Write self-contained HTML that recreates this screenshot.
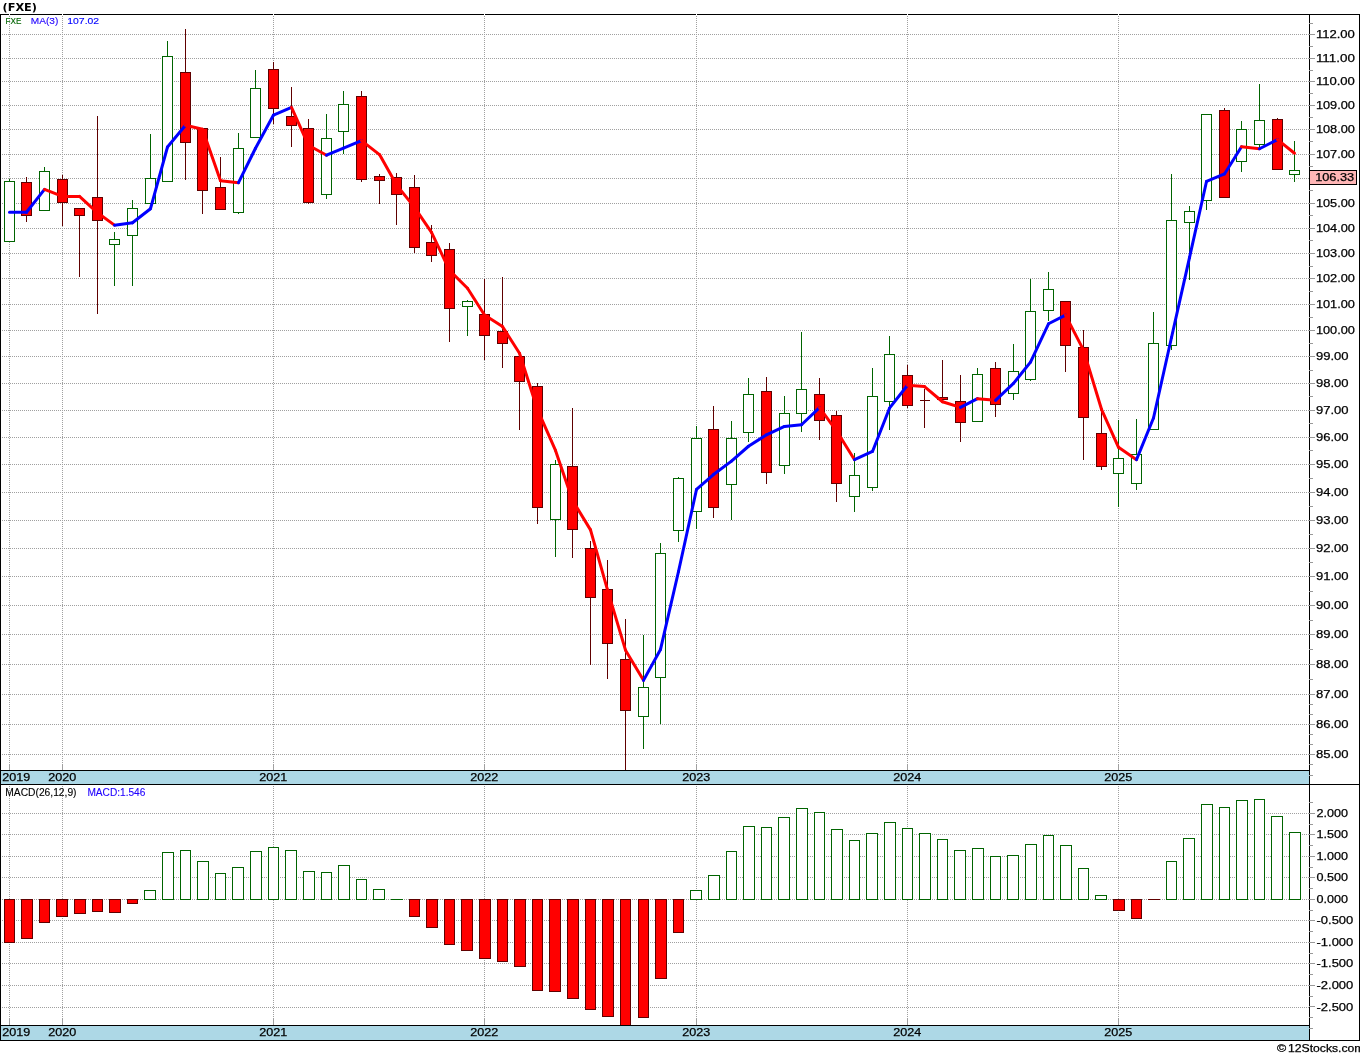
<!DOCTYPE html>
<html><head><meta charset="utf-8"><title>FXE</title>
<style>html,body{margin:0;padding:0;background:#fff;}body{width:1360px;height:1056px;overflow:hidden;}svg{display:block;}</style>
</head><body>
<svg width="1360" height="1056" viewBox="0 0 1360 1056">
<rect x="0" y="0" width="1360" height="1056" fill="#fff"/>
<g stroke="#a0a0a0" stroke-width="1" stroke-dasharray="1 1" shape-rendering="crispEdges"><line x1="0" y1="754.5" x2="1309" y2="754.5"/><line x1="0" y1="724.5" x2="1309" y2="724.5"/><line x1="0" y1="694.5" x2="1309" y2="694.5"/><line x1="0" y1="664.5" x2="1309" y2="664.5"/><line x1="0" y1="634.5" x2="1309" y2="634.5"/><line x1="0" y1="605.5" x2="1309" y2="605.5"/><line x1="0" y1="576.5" x2="1309" y2="576.5"/><line x1="0" y1="548.5" x2="1309" y2="548.5"/><line x1="0" y1="520.5" x2="1309" y2="520.5"/><line x1="0" y1="492.5" x2="1309" y2="492.5"/><line x1="0" y1="464.5" x2="1309" y2="464.5"/><line x1="0" y1="437.5" x2="1309" y2="437.5"/><line x1="0" y1="410.5" x2="1309" y2="410.5"/><line x1="0" y1="383.5" x2="1309" y2="383.5"/><line x1="0" y1="356.5" x2="1309" y2="356.5"/><line x1="0" y1="330.5" x2="1309" y2="330.5"/><line x1="0" y1="304.5" x2="1309" y2="304.5"/><line x1="0" y1="278.5" x2="1309" y2="278.5"/><line x1="0" y1="253.5" x2="1309" y2="253.5"/><line x1="0" y1="228.5" x2="1309" y2="228.5"/><line x1="0" y1="203.5" x2="1309" y2="203.5"/><line x1="0" y1="178.5" x2="1309" y2="178.5"/><line x1="0" y1="154.5" x2="1309" y2="154.5"/><line x1="0" y1="129.5" x2="1309" y2="129.5"/><line x1="0" y1="105.5" x2="1309" y2="105.5"/><line x1="0" y1="81.5" x2="1309" y2="81.5"/><line x1="0" y1="58.5" x2="1309" y2="58.5"/><line x1="0" y1="34.5" x2="1309" y2="34.5"/><line x1="9.5" y1="14" x2="9.5" y2="764"/><line x1="9.5" y1="784" x2="9.5" y2="1020"/><line x1="62.5" y1="14" x2="62.5" y2="764"/><line x1="62.5" y1="784" x2="62.5" y2="1020"/><line x1="273.5" y1="14" x2="273.5" y2="764"/><line x1="273.5" y1="784" x2="273.5" y2="1020"/><line x1="484.5" y1="14" x2="484.5" y2="764"/><line x1="484.5" y1="784" x2="484.5" y2="1020"/><line x1="696.5" y1="14" x2="696.5" y2="764"/><line x1="696.5" y1="784" x2="696.5" y2="1020"/><line x1="907.5" y1="14" x2="907.5" y2="764"/><line x1="907.5" y1="784" x2="907.5" y2="1020"/><line x1="1118.5" y1="14" x2="1118.5" y2="764"/><line x1="1118.5" y1="784" x2="1118.5" y2="1020"/></g>
<g stroke="#a0a0a0" stroke-width="1" stroke-dasharray="1 1" shape-rendering="crispEdges"><line x1="0" y1="813.5" x2="1309" y2="813.5"/><line x1="0" y1="834.5" x2="1309" y2="834.5"/><line x1="0" y1="856.5" x2="1309" y2="856.5"/><line x1="0" y1="877.5" x2="1309" y2="877.5"/><line x1="0" y1="899.5" x2="1309" y2="899.5"/><line x1="0" y1="920.5" x2="1309" y2="920.5"/><line x1="0" y1="942.5" x2="1309" y2="942.5"/><line x1="0" y1="963.5" x2="1309" y2="963.5"/><line x1="0" y1="985.5" x2="1309" y2="985.5"/><line x1="0" y1="1007.5" x2="1309" y2="1007.5"/></g>
<g stroke="#a0a0a0" stroke-width="1" shape-rendering="crispEdges"><line x1="9.5" y1="764" x2="9.5" y2="770"/><line x1="9.5" y1="1019" x2="9.5" y2="1025"/><line x1="62.5" y1="764" x2="62.5" y2="770"/><line x1="62.5" y1="1019" x2="62.5" y2="1025"/><line x1="273.5" y1="764" x2="273.5" y2="770"/><line x1="273.5" y1="1019" x2="273.5" y2="1025"/><line x1="484.5" y1="764" x2="484.5" y2="770"/><line x1="484.5" y1="1019" x2="484.5" y2="1025"/><line x1="696.5" y1="764" x2="696.5" y2="770"/><line x1="696.5" y1="1019" x2="696.5" y2="1025"/><line x1="907.5" y1="764" x2="907.5" y2="770"/><line x1="907.5" y1="1019" x2="907.5" y2="1025"/><line x1="1118.5" y1="764" x2="1118.5" y2="770"/><line x1="1118.5" y1="1019" x2="1118.5" y2="1025"/></g>
<g stroke-width="1" shape-rendering="crispEdges"><line x1="9.5" y1="179" x2="9.5" y2="181" stroke="#006400"/><rect x="4.5" y="181.5" width="10" height="60" fill="#fff" stroke="#006400"/><line x1="26.5" y1="177" x2="26.5" y2="182" stroke="#600000"/><line x1="26.5" y1="216" x2="26.5" y2="222" stroke="#600000"/><rect x="21.5" y="182.5" width="10" height="33" fill="#ff0000" stroke="#600000"/><line x1="44.5" y1="167" x2="44.5" y2="171" stroke="#006400"/><rect x="39.5" y="171.5" width="10" height="39" fill="#fff" stroke="#006400"/><line x1="62.5" y1="175" x2="62.5" y2="179" stroke="#600000"/><line x1="62.5" y1="203" x2="62.5" y2="226" stroke="#600000"/><rect x="57.5" y="179.5" width="10" height="23" fill="#ff0000" stroke="#600000"/><line x1="79.5" y1="216" x2="79.5" y2="277" stroke="#600000"/><rect x="74.5" y="208.5" width="10" height="7" fill="#ff0000" stroke="#600000"/><line x1="97.5" y1="116" x2="97.5" y2="197" stroke="#600000"/><line x1="97.5" y1="221" x2="97.5" y2="314" stroke="#600000"/><rect x="92.5" y="197.5" width="10" height="23" fill="#ff0000" stroke="#600000"/><line x1="114.5" y1="232" x2="114.5" y2="239" stroke="#006400"/><line x1="114.5" y1="245" x2="114.5" y2="286" stroke="#006400"/><rect x="109.5" y="239.5" width="10" height="5" fill="#fff" stroke="#006400"/><line x1="132.5" y1="200" x2="132.5" y2="208" stroke="#006400"/><line x1="132.5" y1="236" x2="132.5" y2="286" stroke="#006400"/><rect x="127.5" y="208.5" width="10" height="27" fill="#fff" stroke="#006400"/><line x1="150.5" y1="134" x2="150.5" y2="178" stroke="#006400"/><rect x="145.5" y="178.5" width="10" height="25" fill="#fff" stroke="#006400"/><line x1="167.5" y1="41" x2="167.5" y2="56" stroke="#006400"/><rect x="162.5" y="56.5" width="10" height="125" fill="#fff" stroke="#006400"/><line x1="185.5" y1="29" x2="185.5" y2="72" stroke="#600000"/><line x1="185.5" y1="143" x2="185.5" y2="180" stroke="#600000"/><rect x="180.5" y="72.5" width="10" height="70" fill="#ff0000" stroke="#600000"/><line x1="202.5" y1="191" x2="202.5" y2="214" stroke="#600000"/><rect x="197.5" y="128.5" width="10" height="62" fill="#ff0000" stroke="#600000"/><line x1="220.5" y1="157" x2="220.5" y2="187" stroke="#600000"/><rect x="215.5" y="187.5" width="10" height="22" fill="#ff0000" stroke="#600000"/><line x1="238.5" y1="133" x2="238.5" y2="148" stroke="#006400"/><line x1="238.5" y1="213" x2="238.5" y2="214" stroke="#006400"/><rect x="233.5" y="148.5" width="10" height="64" fill="#fff" stroke="#006400"/><line x1="255.5" y1="70" x2="255.5" y2="88" stroke="#006400"/><rect x="250.5" y="88.5" width="10" height="49" fill="#fff" stroke="#006400"/><line x1="273.5" y1="62" x2="273.5" y2="69" stroke="#600000"/><line x1="273.5" y1="109" x2="273.5" y2="124" stroke="#600000"/><rect x="268.5" y="69.5" width="10" height="39" fill="#ff0000" stroke="#600000"/><line x1="291.5" y1="87" x2="291.5" y2="116" stroke="#600000"/><line x1="291.5" y1="126" x2="291.5" y2="147" stroke="#600000"/><rect x="286.5" y="116.5" width="10" height="9" fill="#ff0000" stroke="#600000"/><line x1="308.5" y1="119" x2="308.5" y2="128" stroke="#600000"/><line x1="308.5" y1="203" x2="308.5" y2="204" stroke="#600000"/><rect x="303.5" y="128.5" width="10" height="74" fill="#ff0000" stroke="#600000"/><line x1="326.5" y1="114" x2="326.5" y2="138" stroke="#006400"/><line x1="326.5" y1="195" x2="326.5" y2="199" stroke="#006400"/><rect x="321.5" y="138.5" width="10" height="56" fill="#fff" stroke="#006400"/><line x1="343.5" y1="91" x2="343.5" y2="104" stroke="#006400"/><line x1="343.5" y1="132" x2="343.5" y2="154" stroke="#006400"/><rect x="338.5" y="104.5" width="10" height="27" fill="#fff" stroke="#006400"/><line x1="361.5" y1="91" x2="361.5" y2="96" stroke="#600000"/><line x1="361.5" y1="180" x2="361.5" y2="182" stroke="#600000"/><rect x="356.5" y="96.5" width="10" height="83" fill="#ff0000" stroke="#600000"/><line x1="379.5" y1="174" x2="379.5" y2="176" stroke="#600000"/><line x1="379.5" y1="181" x2="379.5" y2="204" stroke="#600000"/><rect x="374.5" y="176.5" width="10" height="4" fill="#ff0000" stroke="#600000"/><line x1="396.5" y1="173" x2="396.5" y2="177" stroke="#600000"/><line x1="396.5" y1="195" x2="396.5" y2="225" stroke="#600000"/><rect x="391.5" y="177.5" width="10" height="17" fill="#ff0000" stroke="#600000"/><line x1="414.5" y1="175" x2="414.5" y2="187" stroke="#600000"/><line x1="414.5" y1="248" x2="414.5" y2="253" stroke="#600000"/><rect x="409.5" y="187.5" width="10" height="60" fill="#ff0000" stroke="#600000"/><line x1="431.5" y1="225" x2="431.5" y2="242" stroke="#600000"/><line x1="431.5" y1="256" x2="431.5" y2="262" stroke="#600000"/><rect x="426.5" y="242.5" width="10" height="13" fill="#ff0000" stroke="#600000"/><line x1="449.5" y1="243" x2="449.5" y2="249" stroke="#600000"/><line x1="449.5" y1="309" x2="449.5" y2="342" stroke="#600000"/><rect x="444.5" y="249.5" width="10" height="59" fill="#ff0000" stroke="#600000"/><line x1="467.5" y1="300" x2="467.5" y2="301" stroke="#006400"/><line x1="467.5" y1="307" x2="467.5" y2="336" stroke="#006400"/><rect x="462.5" y="301.5" width="10" height="5" fill="#fff" stroke="#006400"/><line x1="484.5" y1="279" x2="484.5" y2="314" stroke="#600000"/><line x1="484.5" y1="336" x2="484.5" y2="360" stroke="#600000"/><rect x="479.5" y="314.5" width="10" height="21" fill="#ff0000" stroke="#600000"/><line x1="502.5" y1="277" x2="502.5" y2="331" stroke="#600000"/><line x1="502.5" y1="344" x2="502.5" y2="368" stroke="#600000"/><rect x="497.5" y="331.5" width="10" height="12" fill="#ff0000" stroke="#600000"/><line x1="519.5" y1="382" x2="519.5" y2="430" stroke="#600000"/><rect x="514.5" y="356.5" width="10" height="25" fill="#ff0000" stroke="#600000"/><line x1="537.5" y1="383" x2="537.5" y2="386" stroke="#600000"/><line x1="537.5" y1="508" x2="537.5" y2="524" stroke="#600000"/><rect x="532.5" y="386.5" width="10" height="121" fill="#ff0000" stroke="#600000"/><line x1="555.5" y1="460" x2="555.5" y2="464" stroke="#006400"/><line x1="555.5" y1="520" x2="555.5" y2="557" stroke="#006400"/><rect x="550.5" y="464.5" width="10" height="55" fill="#fff" stroke="#006400"/><line x1="572.5" y1="408" x2="572.5" y2="466" stroke="#600000"/><line x1="572.5" y1="530" x2="572.5" y2="558" stroke="#600000"/><rect x="567.5" y="466.5" width="10" height="63" fill="#ff0000" stroke="#600000"/><line x1="590.5" y1="541" x2="590.5" y2="548" stroke="#600000"/><line x1="590.5" y1="598" x2="590.5" y2="665" stroke="#600000"/><rect x="585.5" y="548.5" width="10" height="49" fill="#ff0000" stroke="#600000"/><line x1="607.5" y1="560" x2="607.5" y2="589" stroke="#600000"/><line x1="607.5" y1="644" x2="607.5" y2="679" stroke="#600000"/><rect x="602.5" y="589.5" width="10" height="54" fill="#ff0000" stroke="#600000"/><line x1="625.5" y1="619" x2="625.5" y2="659" stroke="#600000"/><line x1="625.5" y1="711" x2="625.5" y2="770" stroke="#600000"/><rect x="620.5" y="659.5" width="10" height="51" fill="#ff0000" stroke="#600000"/><line x1="643.5" y1="635" x2="643.5" y2="687" stroke="#006400"/><line x1="643.5" y1="717" x2="643.5" y2="749" stroke="#006400"/><rect x="638.5" y="687.5" width="10" height="29" fill="#fff" stroke="#006400"/><line x1="660.5" y1="543" x2="660.5" y2="553" stroke="#006400"/><line x1="660.5" y1="678" x2="660.5" y2="724" stroke="#006400"/><rect x="655.5" y="553.5" width="10" height="124" fill="#fff" stroke="#006400"/><line x1="678.5" y1="477" x2="678.5" y2="478" stroke="#006400"/><line x1="678.5" y1="531" x2="678.5" y2="542" stroke="#006400"/><rect x="673.5" y="478.5" width="10" height="52" fill="#fff" stroke="#006400"/><line x1="696.5" y1="426" x2="696.5" y2="438" stroke="#006400"/><line x1="696.5" y1="512" x2="696.5" y2="529" stroke="#006400"/><rect x="691.5" y="438.5" width="10" height="73" fill="#fff" stroke="#006400"/><line x1="713.5" y1="406" x2="713.5" y2="429" stroke="#600000"/><line x1="713.5" y1="508" x2="713.5" y2="518" stroke="#600000"/><rect x="708.5" y="429.5" width="10" height="78" fill="#ff0000" stroke="#600000"/><line x1="731.5" y1="421" x2="731.5" y2="438" stroke="#006400"/><line x1="731.5" y1="485" x2="731.5" y2="520" stroke="#006400"/><rect x="726.5" y="438.5" width="10" height="46" fill="#fff" stroke="#006400"/><line x1="748.5" y1="378" x2="748.5" y2="394" stroke="#006400"/><line x1="748.5" y1="433" x2="748.5" y2="442" stroke="#006400"/><rect x="743.5" y="394.5" width="10" height="38" fill="#fff" stroke="#006400"/><line x1="766.5" y1="377" x2="766.5" y2="391" stroke="#600000"/><line x1="766.5" y1="473" x2="766.5" y2="484" stroke="#600000"/><rect x="761.5" y="391.5" width="10" height="81" fill="#ff0000" stroke="#600000"/><line x1="784.5" y1="396" x2="784.5" y2="413" stroke="#006400"/><line x1="784.5" y1="466" x2="784.5" y2="474" stroke="#006400"/><rect x="779.5" y="413.5" width="10" height="52" fill="#fff" stroke="#006400"/><line x1="801.5" y1="332" x2="801.5" y2="389" stroke="#006400"/><line x1="801.5" y1="414" x2="801.5" y2="432" stroke="#006400"/><rect x="796.5" y="389.5" width="10" height="24" fill="#fff" stroke="#006400"/><line x1="819.5" y1="378" x2="819.5" y2="394" stroke="#600000"/><line x1="819.5" y1="421" x2="819.5" y2="440" stroke="#600000"/><rect x="814.5" y="394.5" width="10" height="26" fill="#ff0000" stroke="#600000"/><line x1="836.5" y1="411" x2="836.5" y2="415" stroke="#600000"/><line x1="836.5" y1="484" x2="836.5" y2="502" stroke="#600000"/><rect x="831.5" y="415.5" width="10" height="68" fill="#ff0000" stroke="#600000"/><line x1="854.5" y1="453" x2="854.5" y2="475" stroke="#006400"/><line x1="854.5" y1="497" x2="854.5" y2="512" stroke="#006400"/><rect x="849.5" y="475.5" width="10" height="21" fill="#fff" stroke="#006400"/><line x1="872.5" y1="368" x2="872.5" y2="396" stroke="#006400"/><line x1="872.5" y1="488" x2="872.5" y2="491" stroke="#006400"/><rect x="867.5" y="396.5" width="10" height="91" fill="#fff" stroke="#006400"/><line x1="889.5" y1="336" x2="889.5" y2="354" stroke="#006400"/><line x1="889.5" y1="402" x2="889.5" y2="430" stroke="#006400"/><rect x="884.5" y="354.5" width="10" height="47" fill="#fff" stroke="#006400"/><line x1="907.5" y1="365" x2="907.5" y2="375" stroke="#600000"/><line x1="907.5" y1="406" x2="907.5" y2="408" stroke="#600000"/><rect x="902.5" y="375.5" width="10" height="30" fill="#ff0000" stroke="#600000"/><line x1="924.5" y1="389" x2="924.5" y2="400" stroke="#600000"/><line x1="924.5" y1="401" x2="924.5" y2="428" stroke="#600000"/><line x1="920" y1="400.5" x2="930" y2="400.5" stroke="#600000"/><line x1="942.5" y1="360" x2="942.5" y2="397" stroke="#600000"/><rect x="937.5" y="397.5" width="10" height="2" fill="#ff0000" stroke="#600000"/><line x1="960.5" y1="375" x2="960.5" y2="401" stroke="#600000"/><line x1="960.5" y1="423" x2="960.5" y2="442" stroke="#600000"/><rect x="955.5" y="401.5" width="10" height="21" fill="#ff0000" stroke="#600000"/><line x1="977.5" y1="368" x2="977.5" y2="374" stroke="#006400"/><rect x="972.5" y="374.5" width="10" height="47" fill="#fff" stroke="#006400"/><line x1="995.5" y1="362" x2="995.5" y2="368" stroke="#600000"/><line x1="995.5" y1="405" x2="995.5" y2="417" stroke="#600000"/><rect x="990.5" y="368.5" width="10" height="36" fill="#ff0000" stroke="#600000"/><line x1="1013.5" y1="344" x2="1013.5" y2="371" stroke="#006400"/><line x1="1013.5" y1="394" x2="1013.5" y2="400" stroke="#006400"/><rect x="1008.5" y="371.5" width="10" height="22" fill="#fff" stroke="#006400"/><line x1="1030.5" y1="279" x2="1030.5" y2="311" stroke="#006400"/><line x1="1030.5" y1="380" x2="1030.5" y2="381" stroke="#006400"/><rect x="1025.5" y="311.5" width="10" height="68" fill="#fff" stroke="#006400"/><line x1="1048.5" y1="272" x2="1048.5" y2="289" stroke="#006400"/><line x1="1048.5" y1="311" x2="1048.5" y2="321" stroke="#006400"/><rect x="1043.5" y="289.5" width="10" height="21" fill="#fff" stroke="#006400"/><line x1="1065.5" y1="346" x2="1065.5" y2="372" stroke="#600000"/><rect x="1060.5" y="301.5" width="10" height="44" fill="#ff0000" stroke="#600000"/><line x1="1083.5" y1="330" x2="1083.5" y2="347" stroke="#600000"/><line x1="1083.5" y1="418" x2="1083.5" y2="460" stroke="#600000"/><rect x="1078.5" y="347.5" width="10" height="70" fill="#ff0000" stroke="#600000"/><line x1="1101.5" y1="412" x2="1101.5" y2="433" stroke="#600000"/><line x1="1101.5" y1="467" x2="1101.5" y2="470" stroke="#600000"/><rect x="1096.5" y="433.5" width="10" height="33" fill="#ff0000" stroke="#600000"/><line x1="1118.5" y1="420" x2="1118.5" y2="458" stroke="#006400"/><line x1="1118.5" y1="474" x2="1118.5" y2="507" stroke="#006400"/><rect x="1113.5" y="458.5" width="10" height="15" fill="#fff" stroke="#006400"/><line x1="1136.5" y1="419" x2="1136.5" y2="454" stroke="#006400"/><line x1="1136.5" y1="484" x2="1136.5" y2="490" stroke="#006400"/><rect x="1131.5" y="454.5" width="10" height="29" fill="#fff" stroke="#006400"/><line x1="1153.5" y1="312" x2="1153.5" y2="343" stroke="#006400"/><rect x="1148.5" y="343.5" width="10" height="86" fill="#fff" stroke="#006400"/><line x1="1171.5" y1="174" x2="1171.5" y2="220" stroke="#006400"/><line x1="1171.5" y1="346" x2="1171.5" y2="350" stroke="#006400"/><rect x="1166.5" y="220.5" width="10" height="125" fill="#fff" stroke="#006400"/><line x1="1189.5" y1="206" x2="1189.5" y2="211" stroke="#006400"/><line x1="1189.5" y1="223" x2="1189.5" y2="280" stroke="#006400"/><rect x="1184.5" y="211.5" width="10" height="11" fill="#fff" stroke="#006400"/><line x1="1206.5" y1="201" x2="1206.5" y2="210" stroke="#006400"/><rect x="1201.5" y="114.5" width="10" height="86" fill="#fff" stroke="#006400"/><line x1="1224.5" y1="108" x2="1224.5" y2="110" stroke="#600000"/><rect x="1219.5" y="110.5" width="10" height="87" fill="#ff0000" stroke="#600000"/><line x1="1241.5" y1="121" x2="1241.5" y2="129" stroke="#006400"/><line x1="1241.5" y1="162" x2="1241.5" y2="172" stroke="#006400"/><rect x="1236.5" y="129.5" width="10" height="32" fill="#fff" stroke="#006400"/><line x1="1259.5" y1="84" x2="1259.5" y2="120" stroke="#006400"/><line x1="1259.5" y1="145" x2="1259.5" y2="148" stroke="#006400"/><rect x="1254.5" y="120.5" width="10" height="24" fill="#fff" stroke="#006400"/><line x1="1277.5" y1="118" x2="1277.5" y2="119" stroke="#600000"/><rect x="1272.5" y="119.5" width="10" height="50" fill="#ff0000" stroke="#600000"/><line x1="1294.5" y1="141" x2="1294.5" y2="170" stroke="#006400"/><line x1="1294.5" y1="175" x2="1294.5" y2="182" stroke="#006400"/><rect x="1289.5" y="170.5" width="10" height="4" fill="#fff" stroke="#006400"/></g>
<g stroke-width="3" stroke-linecap="round"><line x1="9.50" y1="212.25" x2="26.50" y2="212.25" stroke="#0000ff"/><line x1="26.50" y1="212.25" x2="44.50" y2="189.43" stroke="#0000ff"/><line x1="44.50" y1="189.43" x2="62.50" y2="196.43" stroke="#ff0000"/><line x1="62.50" y1="196.43" x2="79.50" y2="196.43" stroke="#ff0000"/><line x1="79.50" y1="196.43" x2="97.50" y2="212.82" stroke="#ff0000"/><line x1="97.50" y1="212.82" x2="114.50" y2="225.15" stroke="#ff0000"/><line x1="114.50" y1="225.15" x2="132.50" y2="222.80" stroke="#0000ff"/><line x1="132.50" y1="222.80" x2="150.50" y2="208.71" stroke="#0000ff"/><line x1="150.50" y1="208.71" x2="167.50" y2="147.00" stroke="#0000ff"/><line x1="167.50" y1="147.00" x2="185.50" y2="125.33" stroke="#0000ff"/><line x1="185.50" y1="125.33" x2="202.50" y2="129.24" stroke="#ff0000"/><line x1="202.50" y1="129.24" x2="220.50" y2="180.68" stroke="#ff0000"/><line x1="220.50" y1="180.68" x2="238.50" y2="182.71" stroke="#ff0000"/><line x1="238.50" y1="182.71" x2="255.50" y2="148.28" stroke="#0000ff"/><line x1="255.50" y1="148.28" x2="273.50" y2="115.05" stroke="#0000ff"/><line x1="273.50" y1="115.05" x2="291.50" y2="107.46" stroke="#0000ff"/><line x1="291.50" y1="107.46" x2="308.50" y2="145.27" stroke="#ff0000"/><line x1="308.50" y1="145.27" x2="326.50" y2="155.20" stroke="#ff0000"/><line x1="326.50" y1="155.20" x2="343.50" y2="148.10" stroke="#0000ff"/><line x1="343.50" y1="148.10" x2="361.50" y2="140.57" stroke="#0000ff"/><line x1="361.50" y1="140.57" x2="379.50" y2="154.59" stroke="#ff0000"/><line x1="379.50" y1="154.59" x2="396.50" y2="184.82" stroke="#ff0000"/><line x1="396.50" y1="184.82" x2="414.50" y2="207.34" stroke="#ff0000"/><line x1="414.50" y1="207.34" x2="431.50" y2="232.36" stroke="#ff0000"/><line x1="431.50" y1="232.36" x2="449.50" y2="270.36" stroke="#ff0000"/><line x1="449.50" y1="270.36" x2="467.50" y2="288.31" stroke="#ff0000"/><line x1="467.50" y1="288.31" x2="484.50" y2="315.04" stroke="#ff0000"/><line x1="484.50" y1="315.04" x2="502.50" y2="326.60" stroke="#ff0000"/><line x1="502.50" y1="326.60" x2="519.50" y2="353.26" stroke="#ff0000"/><line x1="519.50" y1="353.26" x2="537.50" y2="409.73" stroke="#ff0000"/><line x1="537.50" y1="409.73" x2="555.50" y2="450.47" stroke="#ff0000"/><line x1="555.50" y1="450.47" x2="572.50" y2="500.28" stroke="#ff0000"/><line x1="572.50" y1="500.28" x2="590.50" y2="529.85" stroke="#ff0000"/><line x1="590.50" y1="529.85" x2="607.50" y2="589.83" stroke="#ff0000"/><line x1="607.50" y1="589.83" x2="625.50" y2="650.17" stroke="#ff0000"/><line x1="625.50" y1="650.17" x2="643.50" y2="680.35" stroke="#ff0000"/><line x1="643.50" y1="680.35" x2="660.50" y2="649.41" stroke="#0000ff"/><line x1="660.50" y1="649.41" x2="678.50" y2="571.49" stroke="#0000ff"/><line x1="678.50" y1="571.49" x2="696.50" y2="489.48" stroke="#0000ff"/><line x1="696.50" y1="489.48" x2="713.50" y2="474.51" stroke="#0000ff"/><line x1="713.50" y1="474.51" x2="731.50" y2="461.13" stroke="#0000ff"/><line x1="731.50" y1="461.13" x2="748.50" y2="446.25" stroke="#0000ff"/><line x1="748.50" y1="446.25" x2="766.50" y2="434.80" stroke="#0000ff"/><line x1="766.50" y1="434.80" x2="784.50" y2="426.45" stroke="#0000ff"/><line x1="784.50" y1="426.45" x2="801.50" y2="424.77" stroke="#0000ff"/><line x1="801.50" y1="424.77" x2="819.50" y2="407.63" stroke="#0000ff"/><line x1="819.50" y1="407.63" x2="836.50" y2="430.79" stroke="#ff0000"/><line x1="836.50" y1="430.79" x2="854.50" y2="459.68" stroke="#ff0000"/><line x1="854.50" y1="459.68" x2="872.50" y2="451.45" stroke="#0000ff"/><line x1="872.50" y1="451.45" x2="889.50" y2="408.18" stroke="#0000ff"/><line x1="889.50" y1="408.18" x2="907.50" y2="385.24" stroke="#0000ff"/><line x1="907.50" y1="385.24" x2="924.50" y2="386.56" stroke="#ff0000"/><line x1="924.50" y1="386.56" x2="942.50" y2="401.75" stroke="#ff0000"/><line x1="942.50" y1="401.75" x2="960.50" y2="407.39" stroke="#ff0000"/><line x1="960.50" y1="407.39" x2="977.50" y2="398.68" stroke="#0000ff"/><line x1="977.50" y1="398.68" x2="995.50" y2="400.34" stroke="#ff0000"/><line x1="995.50" y1="400.34" x2="1013.50" y2="383.37" stroke="#0000ff"/><line x1="1013.50" y1="383.37" x2="1030.50" y2="362.13" stroke="#0000ff"/><line x1="1030.50" y1="362.13" x2="1048.50" y2="323.77" stroke="#0000ff"/><line x1="1048.50" y1="323.77" x2="1065.50" y2="315.15" stroke="#0000ff"/><line x1="1065.50" y1="315.15" x2="1083.50" y2="350.14" stroke="#ff0000"/><line x1="1083.50" y1="350.14" x2="1101.50" y2="409.27" stroke="#ff0000"/><line x1="1101.50" y1="409.27" x2="1118.50" y2="447.33" stroke="#ff0000"/><line x1="1118.50" y1="447.33" x2="1136.50" y2="459.66" stroke="#ff0000"/><line x1="1136.50" y1="459.66" x2="1153.50" y2="418.04" stroke="#0000ff"/><line x1="1153.50" y1="418.04" x2="1171.50" y2="337.50" stroke="#0000ff"/><line x1="1171.50" y1="337.50" x2="1189.50" y2="257.56" stroke="#0000ff"/><line x1="1189.50" y1="257.56" x2="1206.50" y2="181.47" stroke="#0000ff"/><line x1="1206.50" y1="181.47" x2="1224.50" y2="173.98" stroke="#0000ff"/><line x1="1224.50" y1="173.98" x2="1241.50" y2="146.75" stroke="#0000ff"/><line x1="1241.50" y1="146.75" x2="1259.50" y2="148.77" stroke="#ff0000"/><line x1="1259.50" y1="148.77" x2="1277.50" y2="139.58" stroke="#0000ff"/><line x1="1277.50" y1="139.58" x2="1294.50" y2="153.23" stroke="#ff0000"/></g>
<g stroke-width="1" shape-rendering="crispEdges"><rect x="4.5" y="899.5" width="10" height="43" fill="#ff0000" stroke="#600000"/><rect x="21.5" y="899.5" width="11" height="39" fill="#ff0000" stroke="#600000"/><rect x="39.5" y="899.5" width="10" height="23" fill="#ff0000" stroke="#600000"/><rect x="56.5" y="899.5" width="11" height="17" fill="#ff0000" stroke="#600000"/><rect x="74.5" y="899.5" width="11" height="14" fill="#ff0000" stroke="#600000"/><rect x="92.5" y="899.5" width="10" height="12" fill="#ff0000" stroke="#600000"/><rect x="109.5" y="899.5" width="11" height="13" fill="#ff0000" stroke="#600000"/><rect x="127.5" y="899.5" width="10" height="4" fill="#ff0000" stroke="#600000"/><rect x="144.5" y="890.5" width="11" height="9" fill="#fff" stroke="#006400"/><rect x="162.5" y="852.5" width="11" height="47" fill="#fff" stroke="#006400"/><rect x="180.5" y="850.5" width="10" height="49" fill="#fff" stroke="#006400"/><rect x="197.5" y="861.5" width="11" height="38" fill="#fff" stroke="#006400"/><rect x="215.5" y="873.5" width="10" height="26" fill="#fff" stroke="#006400"/><rect x="232.5" y="867.5" width="11" height="32" fill="#fff" stroke="#006400"/><rect x="250.5" y="851.5" width="11" height="48" fill="#fff" stroke="#006400"/><rect x="268.5" y="847.5" width="10" height="52" fill="#fff" stroke="#006400"/><rect x="285.5" y="850.5" width="11" height="49" fill="#fff" stroke="#006400"/><rect x="303.5" y="871.5" width="11" height="28" fill="#fff" stroke="#006400"/><rect x="321.5" y="872.5" width="10" height="27" fill="#fff" stroke="#006400"/><rect x="338.5" y="865.5" width="11" height="34" fill="#fff" stroke="#006400"/><rect x="356.5" y="879.5" width="10" height="20" fill="#fff" stroke="#006400"/><rect x="373.5" y="889.5" width="11" height="10" fill="#fff" stroke="#006400"/><line x1="391" y1="899.5" x2="403" y2="899.5" stroke="#006400"/><rect x="409.5" y="899.5" width="10" height="17" fill="#ff0000" stroke="#600000"/><rect x="426.5" y="899.5" width="11" height="28" fill="#ff0000" stroke="#600000"/><rect x="444.5" y="899.5" width="10" height="45" fill="#ff0000" stroke="#600000"/><rect x="461.5" y="899.5" width="11" height="51" fill="#ff0000" stroke="#600000"/><rect x="479.5" y="899.5" width="11" height="59" fill="#ff0000" stroke="#600000"/><rect x="497.5" y="899.5" width="10" height="62" fill="#ff0000" stroke="#600000"/><rect x="514.5" y="899.5" width="11" height="67" fill="#ff0000" stroke="#600000"/><rect x="532.5" y="899.5" width="10" height="91" fill="#ff0000" stroke="#600000"/><rect x="549.5" y="899.5" width="11" height="92" fill="#ff0000" stroke="#600000"/><rect x="567.5" y="899.5" width="11" height="99" fill="#ff0000" stroke="#600000"/><rect x="585.5" y="899.5" width="10" height="110" fill="#ff0000" stroke="#600000"/><rect x="602.5" y="899.5" width="11" height="117" fill="#ff0000" stroke="#600000"/><rect x="620.5" y="899.5" width="10" height="126" fill="#ff0000" stroke="#600000"/><rect x="638.5" y="899.5" width="10" height="118" fill="#ff0000" stroke="#600000"/><rect x="655.5" y="899.5" width="11" height="79" fill="#ff0000" stroke="#600000"/><rect x="673.5" y="899.5" width="10" height="33" fill="#ff0000" stroke="#600000"/><rect x="690.5" y="890.5" width="11" height="9" fill="#fff" stroke="#006400"/><rect x="708.5" y="875.5" width="11" height="24" fill="#fff" stroke="#006400"/><rect x="726.5" y="851.5" width="10" height="48" fill="#fff" stroke="#006400"/><rect x="743.5" y="826.5" width="11" height="73" fill="#fff" stroke="#006400"/><rect x="761.5" y="827.5" width="10" height="72" fill="#fff" stroke="#006400"/><rect x="778.5" y="817.5" width="11" height="82" fill="#fff" stroke="#006400"/><rect x="796.5" y="808.5" width="11" height="91" fill="#fff" stroke="#006400"/><rect x="814.5" y="812.5" width="10" height="87" fill="#fff" stroke="#006400"/><rect x="831.5" y="829.5" width="11" height="70" fill="#fff" stroke="#006400"/><rect x="849.5" y="840.5" width="10" height="59" fill="#fff" stroke="#006400"/><rect x="866.5" y="833.5" width="11" height="66" fill="#fff" stroke="#006400"/><rect x="884.5" y="822.5" width="11" height="77" fill="#fff" stroke="#006400"/><rect x="902.5" y="828.5" width="10" height="71" fill="#fff" stroke="#006400"/><rect x="919.5" y="833.5" width="11" height="66" fill="#fff" stroke="#006400"/><rect x="937.5" y="839.5" width="10" height="60" fill="#fff" stroke="#006400"/><rect x="954.5" y="850.5" width="11" height="49" fill="#fff" stroke="#006400"/><rect x="972.5" y="848.5" width="11" height="51" fill="#fff" stroke="#006400"/><rect x="990.5" y="856.5" width="10" height="43" fill="#fff" stroke="#006400"/><rect x="1007.5" y="855.5" width="11" height="44" fill="#fff" stroke="#006400"/><rect x="1025.5" y="844.5" width="11" height="55" fill="#fff" stroke="#006400"/><rect x="1043.5" y="835.5" width="10" height="64" fill="#fff" stroke="#006400"/><rect x="1060.5" y="845.5" width="11" height="54" fill="#fff" stroke="#006400"/><rect x="1078.5" y="868.5" width="10" height="31" fill="#fff" stroke="#006400"/><rect x="1095.5" y="895.5" width="11" height="4" fill="#fff" stroke="#006400"/><rect x="1113.5" y="899.5" width="11" height="11" fill="#ff0000" stroke="#600000"/><rect x="1131.5" y="899.5" width="10" height="19" fill="#ff0000" stroke="#600000"/><line x1="1148" y1="899.5" x2="1160" y2="899.5" stroke="#600000"/><rect x="1166.5" y="861.5" width="10" height="38" fill="#fff" stroke="#006400"/><rect x="1183.5" y="838.5" width="11" height="61" fill="#fff" stroke="#006400"/><rect x="1201.5" y="804.5" width="11" height="95" fill="#fff" stroke="#006400"/><rect x="1219.5" y="807.5" width="10" height="92" fill="#fff" stroke="#006400"/><rect x="1236.5" y="800.5" width="11" height="99" fill="#fff" stroke="#006400"/><rect x="1254.5" y="799.5" width="10" height="100" fill="#fff" stroke="#006400"/><rect x="1271.5" y="816.5" width="11" height="83" fill="#fff" stroke="#006400"/><rect x="1289.5" y="832.5" width="11" height="67" fill="#fff" stroke="#006400"/></g>
<g shape-rendering="crispEdges"><rect x="1" y="771" width="1308" height="13" fill="#add8e6"/><rect x="1" y="1026" width="1308" height="14" fill="#add8e6"/><rect x="1310" y="771" width="49" height="13" fill="#fff"/></g>
<g stroke="#000" stroke-width="1" shape-rendering="crispEdges"><line x1="0" y1="14.5" x2="1360" y2="14.5"/><line x1="0.5" y1="14" x2="0.5" y2="1041"/><line x1="1359.5" y1="14" x2="1359.5" y2="1041"/><line x1="1309.5" y1="14" x2="1309.5" y2="1041"/><line x1="0" y1="770.5" x2="1310" y2="770.5"/><line x1="0" y1="784.5" x2="1360" y2="784.5"/><line x1="0" y1="1025.5" x2="1310" y2="1025.5"/><line x1="0" y1="1040.5" x2="1360" y2="1040.5"/></g>
<g stroke="#999999" stroke-width="1" shape-rendering="crispEdges"><line x1="1309" y1="754.5" x2="1315" y2="754.5"/><line x1="1309" y1="724.5" x2="1315" y2="724.5"/><line x1="1309" y1="694.5" x2="1315" y2="694.5"/><line x1="1309" y1="664.5" x2="1315" y2="664.5"/><line x1="1309" y1="634.5" x2="1315" y2="634.5"/><line x1="1309" y1="605.5" x2="1315" y2="605.5"/><line x1="1309" y1="576.5" x2="1315" y2="576.5"/><line x1="1309" y1="548.5" x2="1315" y2="548.5"/><line x1="1309" y1="520.5" x2="1315" y2="520.5"/><line x1="1309" y1="492.5" x2="1315" y2="492.5"/><line x1="1309" y1="464.5" x2="1315" y2="464.5"/><line x1="1309" y1="437.5" x2="1315" y2="437.5"/><line x1="1309" y1="410.5" x2="1315" y2="410.5"/><line x1="1309" y1="383.5" x2="1315" y2="383.5"/><line x1="1309" y1="356.5" x2="1315" y2="356.5"/><line x1="1309" y1="330.5" x2="1315" y2="330.5"/><line x1="1309" y1="304.5" x2="1315" y2="304.5"/><line x1="1309" y1="278.5" x2="1315" y2="278.5"/><line x1="1309" y1="253.5" x2="1315" y2="253.5"/><line x1="1309" y1="228.5" x2="1315" y2="228.5"/><line x1="1309" y1="203.5" x2="1315" y2="203.5"/><line x1="1309" y1="178.5" x2="1315" y2="178.5"/><line x1="1309" y1="154.5" x2="1315" y2="154.5"/><line x1="1309" y1="129.5" x2="1315" y2="129.5"/><line x1="1309" y1="105.5" x2="1315" y2="105.5"/><line x1="1309" y1="81.5" x2="1315" y2="81.5"/><line x1="1309" y1="58.5" x2="1315" y2="58.5"/><line x1="1309" y1="34.5" x2="1315" y2="34.5"/><line x1="1309" y1="679.5" x2="1313" y2="679.5"/><line x1="1309" y1="649.5" x2="1313" y2="649.5"/><line x1="1309" y1="620.5" x2="1313" y2="620.5"/><line x1="1309" y1="591.5" x2="1313" y2="591.5"/><line x1="1309" y1="562.5" x2="1313" y2="562.5"/><line x1="1309" y1="534.5" x2="1313" y2="534.5"/><line x1="1309" y1="506.5" x2="1313" y2="506.5"/><line x1="1309" y1="478.5" x2="1313" y2="478.5"/><line x1="1309" y1="450.5" x2="1313" y2="450.5"/><line x1="1309" y1="423.5" x2="1313" y2="423.5"/><line x1="1309" y1="396.5" x2="1313" y2="396.5"/><line x1="1309" y1="370.5" x2="1313" y2="370.5"/><line x1="1309" y1="343.5" x2="1313" y2="343.5"/><line x1="1309" y1="317.5" x2="1313" y2="317.5"/><line x1="1309" y1="291.5" x2="1313" y2="291.5"/><line x1="1309" y1="266.5" x2="1313" y2="266.5"/><line x1="1309" y1="240.5" x2="1313" y2="240.5"/><line x1="1309" y1="215.5" x2="1313" y2="215.5"/><line x1="1309" y1="190.5" x2="1313" y2="190.5"/><line x1="1309" y1="166.5" x2="1313" y2="166.5"/><line x1="1309" y1="141.5" x2="1313" y2="141.5"/><line x1="1309" y1="117.5" x2="1313" y2="117.5"/><line x1="1309" y1="93.5" x2="1313" y2="93.5"/><line x1="1309" y1="70.5" x2="1313" y2="70.5"/><line x1="1309" y1="46.5" x2="1313" y2="46.5"/><line x1="1309" y1="23.5" x2="1313" y2="23.5"/><line x1="1309" y1="704.5" x2="1313" y2="704.5"/><line x1="1309" y1="714.5" x2="1313" y2="714.5"/><line x1="1309" y1="734.5" x2="1313" y2="734.5"/><line x1="1309" y1="744.5" x2="1313" y2="744.5"/><line x1="1309" y1="764.5" x2="1313" y2="764.5"/><line x1="1309" y1="775.5" x2="1313" y2="775.5"/><line x1="1309" y1="1028.5" x2="1313" y2="1028.5"/><line x1="1309" y1="1017.5" x2="1313" y2="1017.5"/><line x1="1309" y1="1006.5" x2="1315" y2="1006.5"/><line x1="1309" y1="996.5" x2="1313" y2="996.5"/><line x1="1309" y1="985.5" x2="1315" y2="985.5"/><line x1="1309" y1="974.5" x2="1313" y2="974.5"/><line x1="1309" y1="963.5" x2="1315" y2="963.5"/><line x1="1309" y1="953.5" x2="1313" y2="953.5"/><line x1="1309" y1="942.5" x2="1315" y2="942.5"/><line x1="1309" y1="931.5" x2="1313" y2="931.5"/><line x1="1309" y1="920.5" x2="1315" y2="920.5"/><line x1="1309" y1="910.5" x2="1313" y2="910.5"/><line x1="1309" y1="899.5" x2="1315" y2="899.5"/><line x1="1309" y1="888.5" x2="1313" y2="888.5"/><line x1="1309" y1="877.5" x2="1315" y2="877.5"/><line x1="1309" y1="867.5" x2="1313" y2="867.5"/><line x1="1309" y1="856.5" x2="1315" y2="856.5"/><line x1="1309" y1="845.5" x2="1313" y2="845.5"/><line x1="1309" y1="834.5" x2="1315" y2="834.5"/><line x1="1309" y1="824.5" x2="1313" y2="824.5"/><line x1="1309" y1="813.5" x2="1315" y2="813.5"/><line x1="1309" y1="802.5" x2="1313" y2="802.5"/></g>
<g fill="#fff" shape-rendering="crispEdges"><rect x="9" y="14" width="1" height="1"/><rect x="62" y="14" width="1" height="1"/><rect x="273" y="14" width="1" height="1"/><rect x="484" y="14" width="1" height="1"/><rect x="696" y="14" width="1" height="1"/><rect x="907" y="14" width="1" height="1"/><rect x="1118" y="14" width="1" height="1"/></g>
<rect x="1309.5" y="170.5" width="47" height="14" fill="#ffb6b6" stroke="#000" shape-rendering="crispEdges"/>
<g font-family="'Liberation Sans', 'DejaVu Sans', sans-serif"><text x="2.5" y="11" font-size="11" font-family="DejaVu Sans, Liberation Sans, sans-serif" font-weight="bold" textLength="34.5" lengthAdjust="spacingAndGlyphs">(FXE)</text><text x="5.5" y="24.3" font-size="9.6" fill="#006400" font-weight="normal" text-anchor="start" stroke="#006400" stroke-width="0.12" textLength="15.9" lengthAdjust="spacingAndGlyphs">FXE</text><text x="30.8" y="24.3" font-size="9.6" fill="#2000ff" font-weight="normal" text-anchor="start" stroke="#2000ff" stroke-width="0.12" textLength="27.5" lengthAdjust="spacingAndGlyphs">MA(3)</text><text x="67.3" y="24.3" font-size="9.6" fill="#0000ff" font-weight="normal" text-anchor="start" stroke="#0000ff" stroke-width="0.12" textLength="31.8" lengthAdjust="spacingAndGlyphs">107.02</text><text x="5.3" y="795.6" font-size="10" fill="#000" font-weight="normal" text-anchor="start" stroke="#000" stroke-width="0.12" textLength="71.2" lengthAdjust="spacingAndGlyphs">MACD(26,12,9)</text><text x="87.4" y="795.6" font-size="10" fill="#2000ff" font-weight="normal" text-anchor="start" stroke="#2000ff" stroke-width="0.12" textLength="58" lengthAdjust="spacingAndGlyphs">MACD:1.546</text><text x="1315.9" y="758" font-size="11" fill="#000" font-weight="normal" text-anchor="start" stroke="#000" stroke-width="0.25" textLength="32.6" lengthAdjust="spacingAndGlyphs">85.00</text><text x="1315.9" y="728" font-size="11" fill="#000" font-weight="normal" text-anchor="start" stroke="#000" stroke-width="0.25" textLength="32.6" lengthAdjust="spacingAndGlyphs">86.00</text><text x="1315.9" y="698" font-size="11" fill="#000" font-weight="normal" text-anchor="start" stroke="#000" stroke-width="0.25" textLength="32.6" lengthAdjust="spacingAndGlyphs">87.00</text><text x="1315.9" y="668" font-size="11" fill="#000" font-weight="normal" text-anchor="start" stroke="#000" stroke-width="0.25" textLength="32.6" lengthAdjust="spacingAndGlyphs">88.00</text><text x="1315.9" y="638" font-size="11" fill="#000" font-weight="normal" text-anchor="start" stroke="#000" stroke-width="0.25" textLength="32.6" lengthAdjust="spacingAndGlyphs">89.00</text><text x="1315.9" y="609" font-size="11" fill="#000" font-weight="normal" text-anchor="start" stroke="#000" stroke-width="0.25" textLength="32.6" lengthAdjust="spacingAndGlyphs">90.00</text><text x="1315.9" y="580" font-size="11" fill="#000" font-weight="normal" text-anchor="start" stroke="#000" stroke-width="0.25" textLength="32.6" lengthAdjust="spacingAndGlyphs">91.00</text><text x="1315.9" y="552" font-size="11" fill="#000" font-weight="normal" text-anchor="start" stroke="#000" stroke-width="0.25" textLength="32.6" lengthAdjust="spacingAndGlyphs">92.00</text><text x="1315.9" y="524" font-size="11" fill="#000" font-weight="normal" text-anchor="start" stroke="#000" stroke-width="0.25" textLength="32.6" lengthAdjust="spacingAndGlyphs">93.00</text><text x="1315.9" y="496" font-size="11" fill="#000" font-weight="normal" text-anchor="start" stroke="#000" stroke-width="0.25" textLength="32.6" lengthAdjust="spacingAndGlyphs">94.00</text><text x="1315.9" y="468" font-size="11" fill="#000" font-weight="normal" text-anchor="start" stroke="#000" stroke-width="0.25" textLength="32.6" lengthAdjust="spacingAndGlyphs">95.00</text><text x="1315.9" y="441" font-size="11" fill="#000" font-weight="normal" text-anchor="start" stroke="#000" stroke-width="0.25" textLength="32.6" lengthAdjust="spacingAndGlyphs">96.00</text><text x="1315.9" y="414" font-size="11" fill="#000" font-weight="normal" text-anchor="start" stroke="#000" stroke-width="0.25" textLength="32.6" lengthAdjust="spacingAndGlyphs">97.00</text><text x="1315.9" y="387" font-size="11" fill="#000" font-weight="normal" text-anchor="start" stroke="#000" stroke-width="0.25" textLength="32.6" lengthAdjust="spacingAndGlyphs">98.00</text><text x="1315.9" y="360" font-size="11" fill="#000" font-weight="normal" text-anchor="start" stroke="#000" stroke-width="0.25" textLength="32.6" lengthAdjust="spacingAndGlyphs">99.00</text><text x="1315.9" y="334" font-size="11" fill="#000" font-weight="normal" text-anchor="start" stroke="#000" stroke-width="0.25" textLength="39.0" lengthAdjust="spacingAndGlyphs">100.00</text><text x="1315.9" y="308" font-size="11" fill="#000" font-weight="normal" text-anchor="start" stroke="#000" stroke-width="0.25" textLength="39.0" lengthAdjust="spacingAndGlyphs">101.00</text><text x="1315.9" y="282" font-size="11" fill="#000" font-weight="normal" text-anchor="start" stroke="#000" stroke-width="0.25" textLength="39.0" lengthAdjust="spacingAndGlyphs">102.00</text><text x="1315.9" y="257" font-size="11" fill="#000" font-weight="normal" text-anchor="start" stroke="#000" stroke-width="0.25" textLength="39.0" lengthAdjust="spacingAndGlyphs">103.00</text><text x="1315.9" y="232" font-size="11" fill="#000" font-weight="normal" text-anchor="start" stroke="#000" stroke-width="0.25" textLength="39.0" lengthAdjust="spacingAndGlyphs">104.00</text><text x="1315.9" y="207" font-size="11" fill="#000" font-weight="normal" text-anchor="start" stroke="#000" stroke-width="0.25" textLength="39.0" lengthAdjust="spacingAndGlyphs">105.00</text><text x="1315.9" y="158" font-size="11" fill="#000" font-weight="normal" text-anchor="start" stroke="#000" stroke-width="0.25" textLength="39.0" lengthAdjust="spacingAndGlyphs">107.00</text><text x="1315.9" y="133" font-size="11" fill="#000" font-weight="normal" text-anchor="start" stroke="#000" stroke-width="0.25" textLength="39.0" lengthAdjust="spacingAndGlyphs">108.00</text><text x="1315.9" y="109" font-size="11" fill="#000" font-weight="normal" text-anchor="start" stroke="#000" stroke-width="0.25" textLength="39.0" lengthAdjust="spacingAndGlyphs">109.00</text><text x="1315.9" y="85" font-size="11" fill="#000" font-weight="normal" text-anchor="start" stroke="#000" stroke-width="0.25" textLength="39.0" lengthAdjust="spacingAndGlyphs">110.00</text><text x="1315.9" y="62" font-size="11" fill="#000" font-weight="normal" text-anchor="start" stroke="#000" stroke-width="0.25" textLength="39.0" lengthAdjust="spacingAndGlyphs">111.00</text><text x="1315.9" y="38" font-size="11" fill="#000" font-weight="normal" text-anchor="start" stroke="#000" stroke-width="0.25" textLength="39.0" lengthAdjust="spacingAndGlyphs">112.00</text><text x="1315.2" y="181" font-size="11" fill="#000" font-weight="normal" text-anchor="start" stroke="#000" stroke-width="0.25" textLength="39.0" lengthAdjust="spacingAndGlyphs">106.33</text><text x="1316.5" y="817" font-size="11" fill="#000" font-weight="normal" text-anchor="start" stroke="#000" stroke-width="0.25" textLength="31.5" lengthAdjust="spacingAndGlyphs">2.000</text><text x="1316.5" y="838" font-size="11" fill="#000" font-weight="normal" text-anchor="start" stroke="#000" stroke-width="0.25" textLength="31.5" lengthAdjust="spacingAndGlyphs">1.500</text><text x="1316.5" y="860" font-size="11" fill="#000" font-weight="normal" text-anchor="start" stroke="#000" stroke-width="0.25" textLength="31.5" lengthAdjust="spacingAndGlyphs">1.000</text><text x="1316.5" y="881" font-size="11" fill="#000" font-weight="normal" text-anchor="start" stroke="#000" stroke-width="0.25" textLength="31.5" lengthAdjust="spacingAndGlyphs">0.500</text><text x="1316.5" y="903" font-size="11" fill="#000" font-weight="normal" text-anchor="start" stroke="#000" stroke-width="0.25" textLength="31.5" lengthAdjust="spacingAndGlyphs">0.000</text><text x="1316.5" y="924" font-size="11" fill="#000" font-weight="normal" text-anchor="start" stroke="#000" stroke-width="0.25" textLength="36.8" lengthAdjust="spacingAndGlyphs">-0.500</text><text x="1316.5" y="946" font-size="11" fill="#000" font-weight="normal" text-anchor="start" stroke="#000" stroke-width="0.25" textLength="36.8" lengthAdjust="spacingAndGlyphs">-1.000</text><text x="1316.5" y="967" font-size="11" fill="#000" font-weight="normal" text-anchor="start" stroke="#000" stroke-width="0.25" textLength="36.8" lengthAdjust="spacingAndGlyphs">-1.500</text><text x="1316.5" y="989" font-size="11" fill="#000" font-weight="normal" text-anchor="start" stroke="#000" stroke-width="0.25" textLength="36.8" lengthAdjust="spacingAndGlyphs">-2.000</text><text x="1316.5" y="1011" font-size="11" fill="#000" font-weight="normal" text-anchor="start" stroke="#000" stroke-width="0.25" textLength="36.8" lengthAdjust="spacingAndGlyphs">-2.500</text><text x="2.3" y="781" font-size="11" fill="#000" font-weight="normal" text-anchor="start" stroke="#000" stroke-width="0.25" textLength="28" lengthAdjust="spacingAndGlyphs">2019</text><text x="2.3" y="1036" font-size="11" fill="#000" font-weight="normal" text-anchor="start" stroke="#000" stroke-width="0.25" textLength="28" lengthAdjust="spacingAndGlyphs">2019</text><text x="48.2" y="781" font-size="11" fill="#000" font-weight="normal" text-anchor="start" stroke="#000" stroke-width="0.25" textLength="28" lengthAdjust="spacingAndGlyphs">2020</text><text x="48.2" y="1036" font-size="11" fill="#000" font-weight="normal" text-anchor="start" stroke="#000" stroke-width="0.25" textLength="28" lengthAdjust="spacingAndGlyphs">2020</text><text x="259.2" y="781" font-size="11" fill="#000" font-weight="normal" text-anchor="start" stroke="#000" stroke-width="0.25" textLength="28" lengthAdjust="spacingAndGlyphs">2021</text><text x="259.2" y="1036" font-size="11" fill="#000" font-weight="normal" text-anchor="start" stroke="#000" stroke-width="0.25" textLength="28" lengthAdjust="spacingAndGlyphs">2021</text><text x="470.2" y="781" font-size="11" fill="#000" font-weight="normal" text-anchor="start" stroke="#000" stroke-width="0.25" textLength="28" lengthAdjust="spacingAndGlyphs">2022</text><text x="470.2" y="1036" font-size="11" fill="#000" font-weight="normal" text-anchor="start" stroke="#000" stroke-width="0.25" textLength="28" lengthAdjust="spacingAndGlyphs">2022</text><text x="682.2" y="781" font-size="11" fill="#000" font-weight="normal" text-anchor="start" stroke="#000" stroke-width="0.25" textLength="28" lengthAdjust="spacingAndGlyphs">2023</text><text x="682.2" y="1036" font-size="11" fill="#000" font-weight="normal" text-anchor="start" stroke="#000" stroke-width="0.25" textLength="28" lengthAdjust="spacingAndGlyphs">2023</text><text x="893.2" y="781" font-size="11" fill="#000" font-weight="normal" text-anchor="start" stroke="#000" stroke-width="0.25" textLength="28" lengthAdjust="spacingAndGlyphs">2024</text><text x="893.2" y="1036" font-size="11" fill="#000" font-weight="normal" text-anchor="start" stroke="#000" stroke-width="0.25" textLength="28" lengthAdjust="spacingAndGlyphs">2024</text><text x="1104.2" y="781" font-size="11" fill="#000" font-weight="normal" text-anchor="start" stroke="#000" stroke-width="0.25" textLength="28" lengthAdjust="spacingAndGlyphs">2025</text><text x="1104.2" y="1036" font-size="11" fill="#000" font-weight="normal" text-anchor="start" stroke="#000" stroke-width="0.25" textLength="28" lengthAdjust="spacingAndGlyphs">2025</text><text x="1277.0" y="1052" font-size="11" fill="#000" font-weight="normal" text-anchor="start" stroke="#000" stroke-width="0.25" textLength="9.2" lengthAdjust="spacingAndGlyphs">©</text><text x="1288.0" y="1052" font-size="11" fill="#000" font-weight="normal" text-anchor="start" stroke="#000" stroke-width="0.25" textLength="76.5" lengthAdjust="spacingAndGlyphs">12Stocks.com</text></g>
</svg>
</body></html>
